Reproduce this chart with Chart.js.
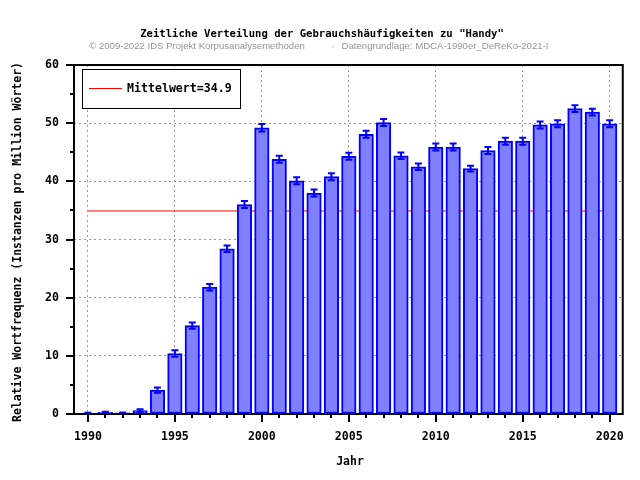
<!DOCTYPE html>
<html>
<head>
<meta charset="utf-8">
<script src="https://cdn.jsdelivr.net/npm/chart.js@4"></script>
<style>
  body { margin: 0; background: #fff; }
</style>
</head>
<body>
<canvas id="myChart" width="640" height="480"></canvas>
<script>
// data
const years = [1990, 1991, 1992, 1993, 1994, 1995, 1996, 1997, 1998, 1999,
               2000, 2001, 2002, 2003, 2004, 2005, 2006, 2007, 2008, 2009,
               2010, 2011, 2012, 2013, 2014, 2015, 2016, 2017, 2018, 2019, 2020];
const freq = [0.15, 0.3, 0.2, 0.6, 4.1, 10.4, 15.2, 21.8, 28.4, 36.0,
              49.2, 43.8, 40.1, 38.0, 40.8, 44.3, 48.1, 50.1, 44.4, 42.5,
              45.9, 45.9, 42.2, 45.3, 46.9, 46.9, 49.7, 49.9, 52.5, 51.9, 49.9];
const errors = [0.05, 0.1, 0.05, 0.2, 0.45, 0.55, 0.55, 0.55, 0.55, 0.6,
                0.65, 0.6, 0.6, 0.6, 0.6, 0.6, 0.6, 0.6, 0.55, 0.55,
                0.6, 0.6, 0.5, 0.6, 0.6, 0.6, 0.6, 0.6, 0.6, 0.6, 0.6];
const meanValue = 34.9;
const xTicks = [1990, 1995, 2000, 2005, 2010, 2015, 2020];
const yTicks = [0, 10, 20, 30, 40, 50, 60];
const yMinorTicks = [5, 15, 25, 35, 45, 55];

const titleText = 'Zeitliche Verteilung der Gebrauchshäufigkeiten zu "Handy"';
const subLeft = '\u00A9 2009-2022 IDS Projekt Korpusanalysemethoden';
const subRight = 'Datengrundlage: MDCA-1990er_DeReKo-2021-I';
const xTitle = 'Jahr';
const yTitle = 'Relative Wortfrequenz (Instanzen pro Million Wörter)';

const MONO = '"DejaVu Sans Mono", monospace';

// error bars, frame, ticks, legend and titles
const extras = {
  id: 'extras',
  afterDatasetsDraw(chart) {
    const ctx = chart.ctx;
    const xs = chart.scales.x, ys = chart.scales.y;
    ctx.save();
    ctx.strokeStyle = '#0000ff';
    ctx.lineWidth = 2;
    years.forEach((yr, i) => {
      const px = xs.getPixelForValue(yr);
      const top = ys.getPixelForValue(freq[i] + errors[i]);
      const bot = ys.getPixelForValue(freq[i] - errors[i]);
      ctx.beginPath();
      ctx.moveTo(px, top); ctx.lineTo(px, bot);
      ctx.moveTo(px - 3.5, top); ctx.lineTo(px + 3.5, top);
      ctx.moveTo(px - 3.5, bot); ctx.lineTo(px + 3.5, bot);
      ctx.stroke();
    });
    ctx.restore();
  },
  afterDraw(chart) {
    const ctx = chart.ctx;
    const a = chart.chartArea;
    const xs = chart.scales.x, ys = chart.scales.y;
    ctx.save();

    // frame
    ctx.strokeStyle = '#000';
    ctx.lineWidth = 2;
    ctx.strokeRect(a.left, a.top, a.right - a.left, a.bottom - a.top);

    // tick marks
    ctx.beginPath();
    years.forEach(yr => {
      const px = Math.round(xs.getPixelForValue(yr));
      const len = xTicks.includes(yr) ? 8 : 4;
      ctx.moveTo(px, a.bottom); ctx.lineTo(px, a.bottom + len);
    });
    yTicks.forEach(v => {
      const py = Math.round(ys.getPixelForValue(v));
      ctx.moveTo(a.left, py); ctx.lineTo(a.left - 8, py);
    });
    yMinorTicks.forEach(v => {
      const py = Math.round(ys.getPixelForValue(v));
      ctx.moveTo(a.left, py); ctx.lineTo(a.left - 4, py);
    });
    ctx.stroke();

    // legend box
    ctx.fillStyle = '#fff';
    ctx.fillRect(82.5, 69.5, 158, 39);
    ctx.lineWidth = 1;
    ctx.strokeRect(82.5, 69.5, 158, 39);
    ctx.strokeStyle = '#ff0000';
    ctx.beginPath();
    ctx.moveTo(89, 88.5); ctx.lineTo(122, 88.5);
    ctx.stroke();
    ctx.fillStyle = '#000';
    ctx.font = 'bold 11.6px ' + MONO;
    ctx.textBaseline = 'middle';
    ctx.textAlign = 'left';
    ctx.fillText(chart.data.datasets[1].label, 127, 89);

    // titles
    ctx.textAlign = 'center';
    ctx.font = 'bold 10.6px ' + MONO;
    ctx.fillText(titleText, 322, 34);
    ctx.fillStyle = '#959595';
    ctx.font = '9.6px "Liberation Sans", Arial, sans-serif';
    ctx.fillText(subLeft, 197, 46);
    ctx.fillText('\u00B7', 333, 46);
    ctx.fillText(subRight, 445, 46);

    // axis titles
    ctx.fillStyle = '#000';
    ctx.font = 'bold 11.5px ' + MONO;
    ctx.fillText(xTitle, 350, 462);
    ctx.translate(18, 242);
    ctx.rotate(-Math.PI / 2);
    ctx.fillText(yTitle, 0, 0);
    ctx.restore();
  }
};

const ctx = document.getElementById('myChart');
const myChart = new Chart(ctx, {
  type: 'bar',
  data: {
    datasets: [{
      type: 'bar',
      label: 'Handy',
      data: years.map((yr, i) => ({ x: yr, y: freq[i] })),
      backgroundColor: '#8080ff',
      borderColor: '#0000ff',
      borderWidth: 2,
      borderSkipped: false,
      barThickness: 14.5,
      order: 1
    }, {
      type: 'line',
      label: 'Mittelwert=' + meanValue,
      data: [{ x: years[0], y: meanValue }, { x: years[years.length - 1], y: meanValue }],
      borderColor: '#ff0000',
      borderWidth: 1,
      pointRadius: 0,
      order: 2
    }]
  },
  options: {
    responsive: false,
    animation: false,
    devicePixelRatio: 1,
    layout: { padding: { top: 65, right: 14, left: 0, bottom: 0 } },
    plugins: {
      legend: { display: false },
      title: { display: false },
      tooltip: { enabled: false }
    },
    scales: {
      x: {
        type: 'linear',
        min: 1989.2,
        max: 2020.75,
        offset: false,
        afterFit: s => { s.height = 66; },
        afterBuildTicks: s => { s.ticks = xTicks.map(v => ({ value: v })); },
        grid: { offset: false, drawTicks: false, color: '#999', lineWidth: 1 },
        border: { display: false, dash: [2, 3] },
        ticks: {
          autoSkip: false,
          maxRotation: 0,
          padding: 16,
          color: '#000',
          font: { family: MONO, size: 11.6, weight: 'bold' },
          callback: v => String(v)
        }
      },
      y: {
        min: 0,
        max: 60,
        afterFit: s => { s.width = 74; },
        afterBuildTicks: s => { s.ticks = yTicks.map(v => ({ value: v })); },
        grid: { drawTicks: false, color: '#999', lineWidth: 1 },
        border: { display: false, dash: [2, 3] },
        ticks: {
          padding: 15,
          color: '#000',
          font: { family: MONO, size: 11.6, weight: 'bold' },
          callback: v => String(v)
        }
      }
    }
  },
  plugins: [extras]
});
</script>
</body>
</html>
